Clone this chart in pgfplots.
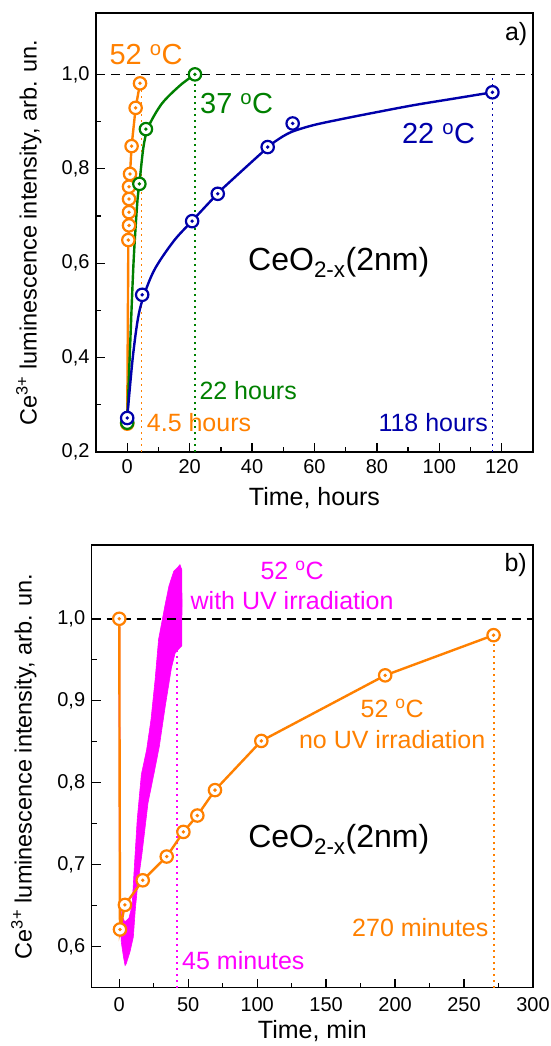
\documentclass[border=0pt]{standalone}
\usepackage{fontspec}
\setmainfont{Liberation Sans}
\usepackage{pgfplots}
\pgfplotsset{compat=1.18}
\definecolor{org}{RGB}{255,128,0}
\definecolor{grn}{RGB}{0,128,0}
\definecolor{nvy}{RGB}{0,0,170}
\definecolor{mag}{RGB}{255,0,255}
\pgfdeclareplotmark{odot}{%
  \pgfpathcircle{\pgfpointorigin}{\pgfplotmarksize}%
  \pgfusepath{fill,stroke}%
  \pgfpathcircle{\pgfpointorigin}{0.35pt}%
  \pgfusepath{stroke}%
}
\tikzset{
  pts/.style={mark=odot, mark size=6.2pt, mark options={fill=white, solid, line width=2.2pt}},
  dots/.style={line width=1.8pt, dash pattern=on 1.8pt off 4.2pt},
  blackdash/.style={black, line width=1.6pt, dash pattern=on 9pt off 6pt},
  ann/.style={font=\fontsize{25}{29}\selectfont, inner sep=0pt},
  temp/.style={font=\fontsize{29}{32}\selectfont, inner sep=0pt},
  ceo/.style={font=\fontsize{32}{36}\selectfont, inner sep=0pt},
}
\pgfplotsset{
  myaxis/.style={
    scale only axis,
    axis line style={line width=1.5pt},
    every tick/.style={line width=1.3pt, black},
    major tick length=9pt, minor tick length=5pt,
    tick align=inside, xtick pos=bottom, ytick pos=left,
    minor x tick num=1, minor y tick num=1,
    /pgf/number format/assume math mode=true,
    tick label style={font=\fontsize{20}{24}\selectfont},
    y tick label style={/pgf/number format/.cd, fixed, fixed zerofill, precision=1, use comma, assume math mode=true, /tikz/.cd, xshift=-3pt},
    x tick label style={yshift=-4pt},
    xlabel style={font=\fontsize{25}{29}\selectfont, inner sep=1pt, at={(axis description cs:0.5,0)}, anchor=center, yshift=-46pt},
    ylabel style={font=\fontsize{23.5}{27}\selectfont, anchor=base},
    clip=false,
  },
}
\begin{document}
\begin{tikzpicture}
\useasboundingbox (0,0) rectangle (550pt,1046pt);
% ---------------- panel a ----------------
\begin{axis}[myaxis,
  at={(96pt,594pt)}, anchor=south west,
  width=437pt, height=439pt,
  xmin=-10, xmax=130, ymin=0.2, ymax=1.13,
  xtick={0,20,40,60,80,100,120},
  ytick={0.2,0.4,0.6,0.8,1.0},
  xlabel={Time, hours},
  ylabel={Ce\textsuperscript{3+} luminescence intensity, arb. un.},
  ylabel style={at={(axis description cs:-0.136,0.5)}},
]
\addplot[org, dots] coordinates {(4.6,0.2) (4.6,1.0)};
\addplot[grn, dots] coordinates {(21.7,0.2) (21.7,1.0)};
\addplot[nvy, dots] coordinates {(117,0.2) (117,1.0)};
\addplot[blackdash] coordinates {(-10,1.0) (130,1.0)};
% orange 52 C
\addplot[org, line width=2.4pt, pts] coordinates {
 (0,0.26) (0.36,0.649) (0.58,0.680) (0.58,0.708) (0.58,0.736) (0.58,0.762) (0.9,0.789) (1.4,0.848) (2.7,0.929) (4.1,0.981)};
% green 37 C curve
\addplot[grn, line width=2.4pt, smooth] coordinates {
 (0,0.262) (0.7,0.385) (2.0,0.598) (3.2,0.726) (3.9,0.768) (5.2,0.846) (6.8,0.889) (11.1,0.938) (17,0.977) (21.7,1.0)};
\addplot[grn, only marks, pts] coordinates {(0,0.262) (3.9,0.768) (6.0,0.884) (21.7,1.0)};
% blue 22 C curve
\addplot[nvy, line width=2.4pt, smooth] coordinates {
 (0,0.27) (0.36,0.30) (2.0,0.413) (4.1,0.504) (8.4,0.582) (14.8,0.646) (21.0,0.691) (29.2,0.749) (33,0.773) (45,0.845) (49,0.865) (53,0.879) (60,0.893) (70,0.907) (80,0.920) (92,0.935) (105,0.949) (117,0.962)};
\addplot[nvy, only marks, pts] coordinates {(0,0.272) (4.8,0.533) (20.8,0.689) (29.0,0.747) (45,0.846) (53,0.896) (117,0.962)};
% texts
\node[temp, org, anchor=base] at (axis cs:6.06,1.020) {52 \textsuperscript{o}C};
\node[temp, grn, anchor=base west] at (axis cs:23.3,0.917) {37 \textsuperscript{o}C};
\node[temp, nvy, anchor=base west] at (axis cs:88.0,0.853) {22 \textsuperscript{o}C};
\node[ceo, black, anchor=base west] at (axis cs:38.7,0.584) {CeO\textsubscript{2-x}(2nm)};
\node[ann, grn, anchor=base west] at (axis cs:23.1,0.311) {22 hours};
\node[ann, org, anchor=base west] at (axis cs:6.25,0.243) {4.5 hours};
\node[ann, nvy, anchor=base east] at (axis cs:115.6,0.243) {118 hours};
\node[ann, black, anchor=center] at (axis cs:124.6,1.086) {a)};
\end{axis}
% ---------------- panel b ----------------
\begin{axis}[myaxis,
  at={(91.7pt,58.3pt)}, anchor=south west,
  width=441.3pt, height=442.7pt,
  xmin=-20, xmax=300, ymin=0.55, ymax=1.09,
  xtick={0,50,100,150,200,250,300},
  ytick={0.6,0.7,0.8,0.9,1.0},
  x tick label style={yshift=-2pt},
  xlabel={Time, min},
  xlabel style={yshift=3pt},
  ylabel={Ce\textsuperscript{3+} luminescence intensity, arb. un.},
  ylabel style={at={(axis description cs:-0.136,0.5)}},
]
\addplot[mag, line width=1.5pt] coordinates {(0,1.0) (0.4,0.665)};
\addplot[mag, fill=mag, line width=0.6pt] coordinates {
 (0.4,0.665) (0.6,0.63) (1.5,0.605) (3.0,0.588) (4.2,0.577) (5.0,0.579) (7.8,0.594) (10.2,0.612) (11.6,0.645) (13.2,0.673) (16.5,0.714) (20.8,0.775) (25.5,0.814) (29.0,0.844) (33.3,0.893) (37.8,0.940) (40.5,0.958) (42.5,0.962) (45.3,0.967) (45.5,1.02) (45.3,1.06) (44,1.066) (42.5,1.063) (39.5,1.058) (36.0,1.040) (33.0,1.015) (28.5,0.975) (26.0,0.926) (23.0,0.877) (19.8,0.84) (16.0,0.81) (13.0,0.755) (10.8,0.694) (9.3,0.650) (7,0.635) (4,0.63) (1.5,0.64) (0.8,0.665)} -- cycle;
\addplot[mag, dots] coordinates {(42,0.55) (42,0.965)};
\addplot[org, dots] coordinates {(271.5,0.55) (271.5,0.98)};
\addplot[blackdash] coordinates {(-20,1.0) (300,1.0)};
\addplot[org, line width=2.4pt, pts] coordinates {
 (0,1.0) (0.5,0.621) (4.1,0.651) (17,0.681) (34.4,0.710) (46.5,0.740) (56.6,0.760) (69.4,0.791) (103,0.851) (192.8,0.931) (271.4,0.980)};
% texts
\node[ann, mag, anchor=base] at (axis cs:125.3,1.048) {52 \textsuperscript{o}C};
\node[ann, mag, anchor=base] at (axis cs:125.3,1.011) {with UV irradiation};
\node[ann, org, anchor=base] at (axis cs:197.9,0.879) {52 \textsuperscript{o}C};
\node[ann, org, anchor=base] at (axis cs:197.9,0.842) {no UV irradiation};
\node[ceo, black, anchor=base west] at (axis cs:93.4,0.7206) {CeO\textsubscript{2-x}(2nm)};
\node[ann, org, anchor=base east] at (axis cs:267.8,0.612) {270 minutes};
\node[ann, mag, anchor=base west] at (axis cs:45.5,0.572) {45 minutes};
\node[ann, black, anchor=center] at (axis cs:287.4,1.065) {b)};
\end{axis}
\end{tikzpicture}
\end{document}
